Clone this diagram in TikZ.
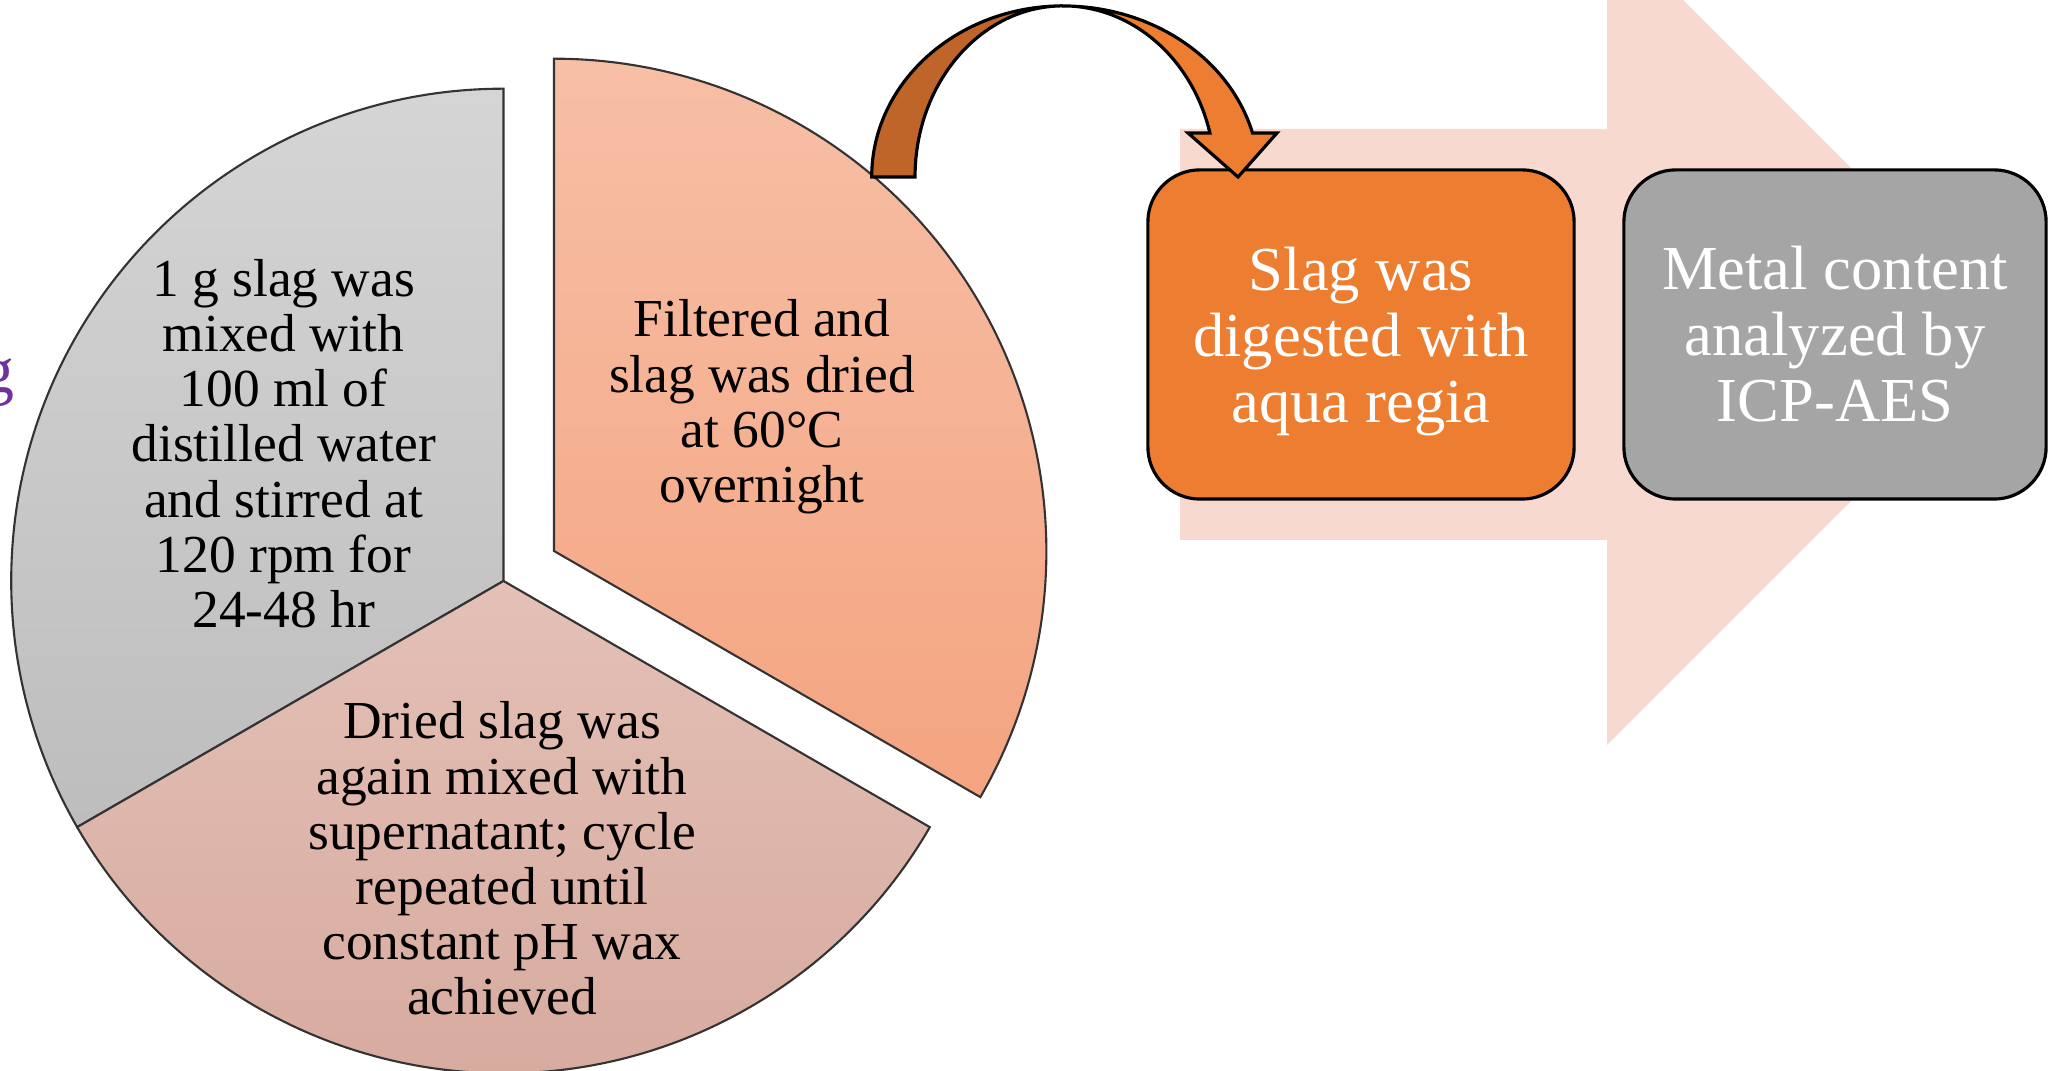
\documentclass[tikz,border=0pt]{standalone}
\usepackage{fontspec}
\setmainfont{Liberation Serif}
\definecolor{bgarrow}{HTML}{F8D9CF}
\definecolor{orng}{HTML}{ED7D31}
\definecolor{darkorng}{HTML}{C0652A}
\definecolor{boxgray}{HTML}{A5A5A5}
\definecolor{graytop}{HTML}{D5D5D5}
\definecolor{graybot}{HTML}{BDBDBD}
\definecolor{pinktop}{HTML}{E4C0B6}
\definecolor{pinkbot}{HTML}{D6A89C}
\definecolor{orgtop}{HTML}{F7BFA6}
\definecolor{orgbot}{HTML}{F4A480}
\definecolor{purp}{HTML}{7030A0}
\definecolor{pieline}{HTML}{333333}
\tikzset{
  sector/.style={draw=pieline, line width=0.6pt},
  pietext/.style={font=\fontsize{15.2}{15.7}\selectfont, align=center, inner sep=0pt, text=black},
  stepbox/.style={draw=black, line width=0.9pt, rounded corners=0.52cm, minimum height=3.29cm,
     align=center, text=white, font=\fontsize{17.8}{18.8}\selectfont, inner sep=0pt},
  blockarrow/.style={draw=black, line width=0.9pt, line join=miter}
}
\begin{document}
\begin{tikzpicture}[x=0.01cm, y=0.01cm]
\clip (0,0) rectangle (2049,1071);
\useasboundingbox (0,0) rectangle (2049,1071);
\fill[white] (0,0) rectangle (2049,1071);
% background big arrow
\fill[bgarrow] (1180,942) -- (1607,942) -- (1607,1147) -- (2017.5,736.5) -- (1607,326) -- (1607,531) -- (1180,531) -- cycle;
% pie
\coordinate (C) at (503.5,490);
\coordinate (V) at (554,520);
\path[sector, top color=graytop, bottom color=graybot] (C) -- ++(90:4.92cm) arc[start angle=90, end angle=210, radius=4.92cm] -- cycle;
\path[sector, top color=pinktop, bottom color=pinkbot] (C) -- ++(210:4.92cm) arc[start angle=210, end angle=330, radius=4.92cm] -- cycle;
\path[sector, top color=orgtop, bottom color=orgbot] (V) -- ++(-30:4.92cm) arc[start angle=-30, end angle=90, radius=4.92cm] -- cycle;
% texts in pie
\node[pietext] (t1) at (283.6,627.3) {1 g slag was\\mixed with\\100 ml of\\distilled water\\and stirred at\\120 rpm for\\24-48 hr};
\node[pietext] (t2) at (762,664) {Filtered and\\slag was dried\\at 60°C\\overnight};
\node[pietext] (t3) at (502,212.4) {Dried slag was\\again mixed with\\supernatant; cycle\\repeated until\\constant pH wax\\achieved};
% purple partial text
\node[anchor=base east, text=purp, font=\fontsize{18.7}{20}\selectfont, inner sep=0pt] (g) at (15.5,678.4) {g};
% boxes
\node[stepbox, fill=orng, minimum width=4.26cm] (b1) at (1361,736.5) {Slag was\\digested with\\\smash{aqua regia}};
\node[stepbox, fill=boxgray, minimum width=4.22cm] (b2) at (1835,736.5) {Metal content\\analyzed by\\ICP-AES};
% curved arrow
\coordinate (arrtop) at (1063,1065);
\path[blockarrow, fill=darkorng] (871.7,894) arc[start angle=180, end angle=90, x radius=1.913cm, y radius=1.71cm]
   arc[start angle=90, end angle=180, x radius=1.48cm, y radius=1.71cm] -- cycle;
\path[blockarrow, fill=orng] (arrtop) arc[start angle=90, end angle=14.9, x radius=1.96cm, y radius=1.71cm]
   -- (1277,938) -- (1238,894) -- (1188,938) -- (1209.9,938)
   arc[start angle=14.9, end angle=90, x radius=1.52cm, y radius=1.71cm] -- cycle;
\end{tikzpicture}
\end{document}
